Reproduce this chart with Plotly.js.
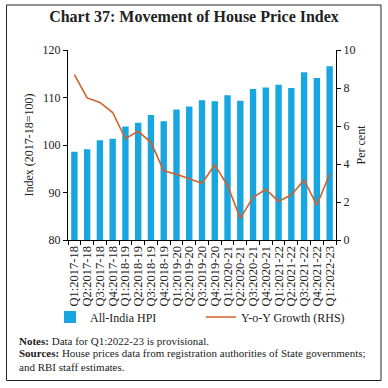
<!DOCTYPE html>
<html><head><meta charset="utf-8">
<script src="https://cdn.plot.ly/plotly-3.0.1.min.js"></script>
<style>html,body{margin:0;padding:0;background:#fff}#c{width:388px;height:388px}</style>
</head><body><div id="c"></div>
<script>
const quarters = ["Q1:2017-18","Q2:2017-18","Q3:2017-18","Q4:2017-18","Q1:2018-19","Q2:2018-19","Q3:2018-19","Q4:2018-19","Q1:2019-20","Q2:2019-20","Q3:2019-20","Q4:2019-20","Q1:2020-21","Q2:2020-21","Q3:2020-21","Q4:2020-21","Q1:2021-22","Q2:2021-22","Q3:2021-22","Q4:2021-22","Q1:2022-23"];
const hpi = [98.6,99.1,101.0,101.3,103.9,104.7,106.3,105.0,107.5,108.1,109.4,109.2,110.5,109.3,111.8,112.1,112.7,112.0,115.3,114.1,116.6];
const yoy = [8.71,7.48,7.24,6.71,5.33,5.72,5.14,3.64,3.46,3.24,2.99,3.95,2.87,1.14,2.24,2.67,2.03,2.38,3.15,1.84,3.46];

const F = "Liberation Serif, DejaVu Serif, serif";
const L = 68, R = 336, T = 50, B = 240;
const pw = R - L, ph = B - T;
const px = x => (x - L) / pw;
const py = y => (B - y) / ph;

const data = [
  {type:"bar", x:quarters, y:hpi, name:"All-India HPI", marker:{color:"#17A6E0"}, yaxis:"y", legendwidth:106},
  {type:"scatter", mode:"lines", x:quarters, y:yoy, name:"Y-o-Y Growth (RHS)", line:{color:"#D0622A", width:1.6}, yaxis:"y2"}
];

const layout = {
  width:388, height:388,
  margin:{l:L, r:388-R, t:T, b:388-B},
  paper_bgcolor:"#fff", plot_bgcolor:"#fff",
  font:{family:F, size:12, color:"#222"},
  title:{text:"<b>Chart 37: Movement of House Price Index</b>", font:{family:F, size:16, color:"#222"}, x:0.5, xanchor:"center", y:1-16/388, yanchor:"middle", yref:"container"},
  bargap:0.5,
  xaxis:{type:"category", tickmode:"array", tickvals:quarters, ticktext:quarters, tickangle:-90, tickfont:{size:12.5}, showline:true, linecolor:"#000", linewidth:1, ticks:"outside", ticklen:4, tickcolor:"#000", tickson:"boundaries", showgrid:false, zeroline:false},
  yaxis:{range:[80,120], dtick:10, showline:true, linecolor:"#000", ticks:"outside", ticklen:4, tickcolor:"#000", showgrid:false, zeroline:false, tickfont:{size:12},
         title:{text:"Index (2017-18=100)", font:{size:12}, standoff:6}},
  yaxis2:{range:[0,10], dtick:2, overlaying:"y", side:"right", showline:true, linecolor:"#000", ticks:"outside", ticklen:4, tickcolor:"#000", showgrid:false, zeroline:false, tickfont:{size:12},
          title:{text:"Per cent", font:{size:12}, standoff:2}},
  showlegend:true,
  legend:{orientation:"h", x:px(50), xanchor:"left", y:py(317), yanchor:"middle", font:{size:12}, traceorder:"normal", bgcolor:"rgba(0,0,0,0)"},
  shapes:[
    {type:"rect", xref:"paper", yref:"paper", x0:px(6.5), x1:px(381), y0:py(380.5), y1:py(5), line:{color:"#222", width:1}, fillcolor:"rgba(0,0,0,0)"}
  ],
  annotations:[
    {xref:"paper", yref:"paper", x:px(17), y:py(341), xanchor:"left", yanchor:"middle", showarrow:false, align:"left", font:{size:11, family:F, color:"#222"}, text:"<b>Notes:</b> Data for Q1:2022-23 is provisional."},
    {xref:"paper", yref:"paper", x:px(17), y:py(360), xanchor:"left", yanchor:"middle", showarrow:false, align:"left", font:{size:11, family:F, color:"#222"}, text:"<b>Sources:</b> House prices data from registration authorities of State governments;<br>and RBI staff estimates."}
  ]
};
Plotly.newPlot("c", data, layout, {staticPlot:true, displayModeBar:false});
</script></body></html>
